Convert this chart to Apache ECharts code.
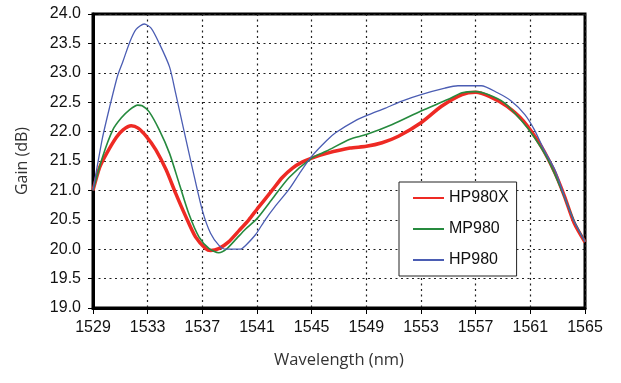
<!DOCTYPE html>
<html>
<head>
<meta charset="utf-8">
<script src="https://cdn.jsdelivr.net/npm/echarts@6/dist/echarts.min.js"></script>
<style>
html,body{margin:0;padding:0;background:#fff;}
#chart{width:621px;height:383px;}
</style>
</head>
<body>
<div id="chart"></div>
<script>
// ---- data ----
const X_START = 1529;
const X_END = 1565;
const X_STEP = 4;
const Y_MIN = 19.0;
const Y_MAX = 24.0;
const Y_STEP = 0.5;

const seriesNames = ['HP980X', 'MP980', 'HP980'];

const hp980xWl = [1529, 1529.5, 1530, 1530.7, 1531.2, 1531.8, 1532.3, 1532.9, 1533.6, 1534.35, 1535.05, 1535.8, 1536.5, 1537.25, 1537.6, 1538.2, 1538.9, 1539.7, 1540.4, 1541, 1542.1, 1542.85, 1543.6, 1544.3, 1545, 1546.1, 1547.8, 1549, 1550.15, 1551.35, 1553, 1554.5, 1556, 1557, 1558, 1559.3, 1560.5, 1561.8, 1562.8, 1563.5, 1564.2, 1565];
const hp980xGain = [21.0, 21.4, 21.63, 21.9, 22.03, 22.1, 22.06, 21.92, 21.69, 21.35, 20.95, 20.55, 20.21, 20.01, 19.98, 20.01, 20.12, 20.32, 20.5, 20.68, 21.0, 21.22, 21.38, 21.48, 21.55, 21.63, 21.72, 21.75, 21.81, 21.92, 22.15, 22.43, 22.63, 22.67, 22.6, 22.43, 22.18, 21.75, 21.3, 20.9, 20.45, 20.12];

const mp980Wl = [1529, 1529.7, 1530.45, 1531.06, 1531.67, 1532.27, 1532.6, 1533.1, 1533.85, 1534.6, 1535.3, 1536, 1536.75, 1537.5, 1538.2, 1538.8, 1539.5, 1540.15, 1541, 1542.1, 1543.35, 1545, 1546.1, 1547.8, 1549, 1550.9, 1553, 1555, 1556, 1557, 1557.9, 1559.1, 1560.3, 1561.3, 1562.3, 1563.3, 1564.2, 1565];
const mp980Gain = [21.0, 21.57, 22.03, 22.23, 22.37, 22.45, 22.44, 22.34, 22.03, 21.63, 21.12, 20.61, 20.21, 20.01, 19.94, 20.01, 20.18, 20.34, 20.52, 20.85, 21.22, 21.55, 21.67, 21.87, 21.95, 22.12, 22.35, 22.55, 22.66, 22.68, 22.63, 22.49, 22.2, 21.9, 21.52, 21.0, 20.48, 20.13];

const hp980Wl = [1529, 1529.7, 1530.2, 1530.8, 1531.2, 1531.7, 1532.15, 1532.75, 1533.25, 1533.85, 1534.6, 1535.05, 1535.7, 1536.3, 1537, 1537.6, 1538.2, 1538.7, 1539.8, 1540.15, 1540.9, 1541.6, 1542.3, 1543.35, 1544.2, 1545, 1546.1, 1546.75, 1548.3, 1549.2, 1550.4, 1551.6, 1553, 1554.75, 1555.7, 1557.4, 1558.6, 1559.6, 1560.6, 1561.3, 1562, 1562.8, 1563.4, 1564.15, 1565];
const hp980Gain = [21.0, 21.9, 22.4, 22.95, 23.2, 23.53, 23.74, 23.83, 23.76, 23.5, 23.1, 22.65, 21.97, 21.35, 20.66, 20.27, 20.07, 20.0, 20.0, 20.06, 20.25, 20.5, 20.72, 21.02, 21.32, 21.58, 21.85, 21.98, 22.2, 22.29, 22.4, 22.52, 22.63, 22.74, 22.78, 22.78, 22.66, 22.52, 22.29, 22.03, 21.69, 21.35, 20.96, 20.5, 20.13];

// ---- build ----
function pairs(wl, g) { return wl.map((w, i) => [w - X_START, g[i]]); }

const chart = echarts.init(document.getElementById('chart'), null, {renderer: 'canvas'});
const labelFont = '"Liberation Sans", Arial, sans-serif';
const titleFont = '"Open Sans", sans-serif';

const option = {
  backgroundColor: '#ffffff',
  animation: false,
  grid: {
    left: 93, right: 36, top: 14, bottom: 75,
    show: true, borderColor: '#000', borderWidth: 3, backgroundColor: 'transparent'
  },
  legend: {
    orient: 'vertical',
    left: 399, top: 182,
    padding: [8, 8, 8, 13],
    itemGap: 15,
    itemWidth: 31, itemHeight: 14,
    borderColor: '#222', borderWidth: 1,
    backgroundColor: '#fff',
    itemStyle: {color: 'transparent', borderColor: 'transparent', borderWidth: 0, opacity: 0},
    textStyle: {fontFamily: labelFont, fontSize: 16, color: '#111'},
    data: seriesNames
  },
  xAxis: {
    type: 'value',
    min: 0, max: X_END - X_START, interval: X_STEP,
    name: 'Wavelength (nm)',
    nameLocation: 'middle', nameGap: 44,
    nameTextStyle: {fontFamily: titleFont, fontSize: 16.5, color: '#333'},
    axisLine: {show: true, onZero: false, lineStyle: {color: '#000', width: 3}},
    axisTick: {show: true, inside: false, length: 6, lineStyle: {color: '#000', width: 1}},
    axisLabel: {
      margin: 12, fontFamily: labelFont, fontSize: 16, color: '#111',
      formatter: v => String(v + X_START)
    },
    splitLine: {show: true, lineStyle: {color: '#222', type: [2, 3.5], width: 1.2}}
  },
  yAxis: {
    type: 'value',
    min: Y_MIN, max: Y_MAX, interval: Y_STEP,
    name: 'Gain (dB)',
    nameLocation: 'middle', nameGap: 63,
    nameTextStyle: {fontFamily: titleFont, fontSize: 16, color: '#333'},
    axisLine: {show: true, lineStyle: {color: '#000', width: 3}},
    axisTick: {show: true, inside: false, length: 5, lineStyle: {color: '#000', width: 1}},
    axisLabel: {
      margin: 12, fontFamily: labelFont, fontSize: 16, color: '#111',
      formatter: v => v.toFixed(1)
    },
    splitLine: {show: true, lineStyle: {color: '#222', type: [2, 3.5], width: 1.2}}
  },
  series: [
    {
      name: seriesNames[0], type: 'line', symbol: 'none', smooth: 0.25,
      data: pairs(hp980xWl, hp980xGain),
      lineStyle: {color: '#ee2a24', width: 3.5}, itemStyle: {color: '#ee2a24'}
    },
    {
      name: seriesNames[1], type: 'line', symbol: 'none', smooth: 0.25,
      data: pairs(mp980Wl, mp980Gain),
      lineStyle: {color: '#268a3e', width: 1.6}, itemStyle: {color: '#268a3e'}
    },
    {
      name: seriesNames[2], type: 'line', symbol: 'none', smooth: 0.25,
      data: pairs(hp980Wl, hp980Gain),
      lineStyle: {color: '#4b5db3', width: 1.3}, itemStyle: {color: '#4b5db3'}
    }
  ]
};
chart.setOption(option);
</script>
</body>
</html>
